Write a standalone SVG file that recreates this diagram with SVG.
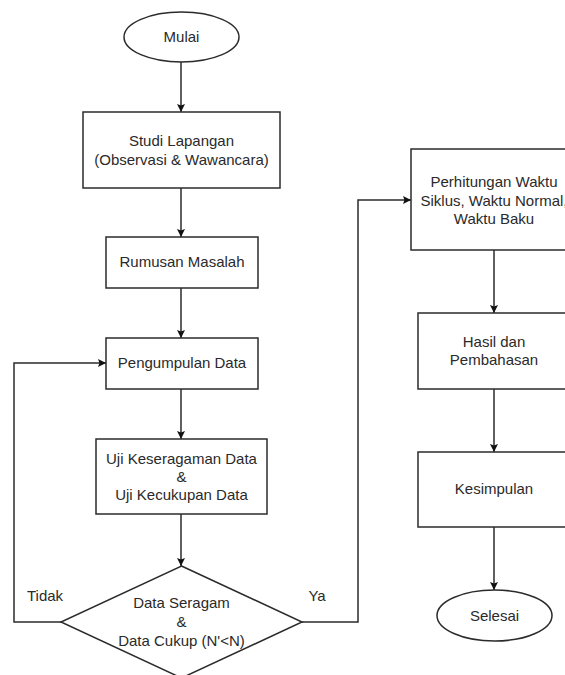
<svg xmlns="http://www.w3.org/2000/svg" width="565" height="675" viewBox="0 0 565 675">
<defs>
<marker id="arr" markerWidth="10" markerHeight="10" refX="9" refY="5" orient="auto" markerUnits="userSpaceOnUse">
<path d="M1,1 L9,5 L1,9 L2.5,5 Z" fill="#111"/>
</marker>
</defs>
<style>
.s{fill:#fff;stroke:#2b2b2b;stroke-width:1.5}
.c{fill:none;stroke:#2b2b2b;stroke-width:1.5;marker-end:url(#arr)}
text{font-family:"Liberation Sans",Arial,sans-serif;font-size:15px;fill:#2a2a2a;text-anchor:middle}
</style>
<rect width="565" height="675" fill="#fff"/>
<g id="connectors">
<line class="c" x1="181" y1="62" x2="181" y2="112"/>
<line class="c" x1="181" y1="188" x2="181" y2="237"/>
<line class="c" x1="181" y1="288" x2="181" y2="338"/>
<line class="c" x1="181" y1="389" x2="181" y2="439"/>
<line class="c" x1="181" y1="514" x2="181" y2="566"/>
<polyline class="c" points="61,622 14,622 14,363 106,363"/>
<polyline class="c" points="302,622 358,622 358,200 411,200"/>
<line class="c" x1="494" y1="250" x2="494" y2="313"/>
<line class="c" x1="494" y1="389" x2="494" y2="452"/>
<line class="c" x1="494" y1="527" x2="494" y2="590"/>
<text x="45" y="601">Tidak</text>
<text x="317" y="601">Ya</text>
</g>
<g id="mulai">
<ellipse class="s" cx="181.5" cy="37" rx="57.5" ry="25"/>
<text x="181.5" y="42">Mulai</text>
</g>
<g id="studi">
<rect class="s" x="83" y="112" width="197" height="76"/>
<text x="181.5" y="146">Studi Lapangan</text>
<text x="181.5" y="165">(Observasi &amp; Wawancara)</text>
</g>
<g id="rumusan">
<rect class="s" x="106" y="237" width="152" height="51"/>
<text x="182" y="267">Rumusan Masalah</text>
</g>
<g id="pengumpulan">
<rect class="s" x="106" y="338" width="152" height="51"/>
<text x="182" y="368">Pengumpulan Data</text>
</g>
<g id="uji">
<rect class="s" x="96" y="439" width="171" height="75"/>
<text x="181.5" y="464">Uji Keseragaman Data</text>
<text x="181.5" y="482">&amp;</text>
<text x="181.5" y="500">Uji Kecukupan Data</text>
</g>
<g id="keputusan">
<polygon class="s" points="181.5,566 302,622 181.5,678 61,622"/>
<text x="181.5" y="608">Data Seragam</text>
<text x="181.5" y="627">&amp;</text>
<text x="181.5" y="646">Data Cukup (N'&lt;N)</text>
</g>
<g id="perhitungan">
<rect class="s" x="411" y="149" width="166" height="101"/>
<text x="494" y="187">Perhitungan Waktu</text>
<text x="494" y="206">Siklus, Waktu Normal,</text>
<text x="494" y="224">Waktu Baku</text>
</g>
<g id="hasil">
<rect class="s" x="418" y="313" width="152" height="76"/>
<text x="494" y="347">Hasil dan</text>
<text x="494" y="365">Pembahasan</text>
</g>
<g id="kesimpulan">
<rect class="s" x="418" y="452" width="152" height="75"/>
<text x="494" y="494">Kesimpulan</text>
</g>
<g id="selesai">
<ellipse class="s" cx="494.5" cy="615.5" rx="57.5" ry="25.5"/>
<text x="494.5" y="621">Selesai</text>
</g>
</svg>
